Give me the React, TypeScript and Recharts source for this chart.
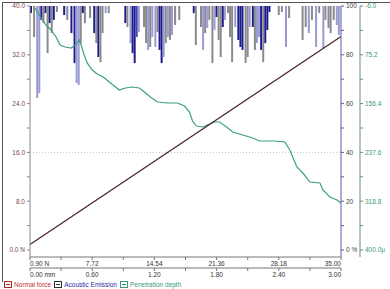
import { ComposedChart, Bar, Line, XAxis, YAxis, ReferenceLine, Cell } from "recharts";

// acoustic emission spikes: position (mm) and the level (%) each spike hangs down to
const AE_MM = [
  0.01, 0.04, 0.07, 0.09, 0.11, 0.13, 0.15, 0.17, 0.19, 0.21, 0.23, 0.26, 0.33, 0.36, 0.40, 0.43,
  0.45, 0.47, 0.49, 0.51, 0.53, 0.58, 0.62, 0.64, 0.66, 0.68, 0.70, 0.73, 0.76, 0.92, 0.94, 0.97,
  0.99, 1.01, 1.03, 1.05, 1.10, 1.12, 1.14, 1.16, 1.18, 1.21, 1.23, 1.25, 1.27, 1.29, 1.31, 1.33,
  1.35, 1.37, 1.40, 1.44, 1.58, 1.60, 1.65, 1.67, 1.69, 1.71, 1.73, 1.76, 1.78, 1.80, 1.82, 1.84,
  1.86, 1.88, 1.91, 1.93, 1.95, 1.98, 2.01, 2.03, 2.05, 2.08, 2.10, 2.12, 2.15, 2.17, 2.19, 2.21,
  2.23, 2.25, 2.27, 2.29, 2.31, 2.40, 2.43, 2.47, 2.50, 2.63, 2.66, 2.69, 2.72, 2.76, 2.79, 2.83,
  2.85, 2.88, 2.90, 2.93, 2.96, 2.98,
];
const AE_LOW = [
  97.1, 87.3, 62.3, 64.3, 94.3, 93.0, 97.1, 80.7, 93.0, 88.9, 94.3, 97.5, 96.3, 94.3, 88.9, 76.6,
  68.4, 67.6, 84.8, 97.1, 93.0, 95.1, 88.9, 84.8, 79.1, 77.0, 88.9, 97.1, 97.1, 93.0, 91.4, 84.8,
  80.7, 76.6, 87.3, 89.3, 91.4, 84.8, 82.0, 83.2, 87.3, 83.2, 89.3, 82.0, 76.6, 79.1, 84.8, 87.3,
  86.1, 88.1, 92.2, 94.3, 97.1, 84.0, 91.4, 82.0, 88.9, 91.0, 94.3, 76.6, 90.2, 95.5, 86.1, 79.1,
  91.4, 94.3, 97.1, 87.3, 77.0, 91.4, 86.1, 83.2, 82.0, 76.6, 79.1, 91.4, 91.4, 82.0, 84.8, 87.3,
  82.0, 77.0, 84.8, 90.2, 97.5, 96.3, 97.5, 83.2, 95.1, 86.1, 91.4, 88.9, 94.3, 83.2, 97.1, 82.8,
  94.3, 91.0, 88.9, 94.3, 92.2, 88.1,
];
// n = navy, g = grey, l = lavender, b = blue
const AE_TONE = [
  "n", "g", "l", "l", "n", "g", "n", "g", "n", "g", "n", "g", "n", "g", "n", "n",
  "l", "l", "g", "n", "g", "g", "n", "g", "n", "g", "g", "l", "g", "n", "g", "l",
  "n", "n", "b", "l", "g", "g", "l", "g", "l", "l", "g", "n", "n", "l", "g", "l",
  "g", "l", "g", "g", "n", "g", "g", "l", "g", "l", "g", "g", "l", "n", "g", "g",
  "n", "l", "g", "g", "g", "l", "n", "n", "n", "g", "g", "l", "n", "g", "l", "l",
  "n", "g", "n", "n", "n", "g", "g", "l", "g", "g", "g", "l", "g", "l", "g", "l",
  "g", "g", "g", "g", "l", "l",
];

// normal force ramps linearly with the applied load
const FORCE_N = [0.9, 35];

// penetration depth (µm) read against the normal-force axis
const DEPTH_N = [
  1.45, 2.11, 2.66, 3.21, 3.76, 4.20, 4.75, 5.41, 5.85, 6.29, 6.51, 6.84, 7.17, 7.72, 8.27, 8.93,
  9.59, 10.14, 10.69, 11.35, 12.12, 12.89, 13.44, 14.10, 14.87, 15.97, 17.07, 17.84, 18.39, 18.72, 19.16, 19.82,
  20.59, 21.14, 21.69, 22.46, 23.12, 24.22, 25.32, 26.09, 27.74, 28.84, 29.39, 30.16, 30.82, 31.59, 32.69, 33.02,
  33.79, 34.56, 35.00,
];
const DEPTH_UM = [
  -2.7, 14.0, 25.6, 33.9, 45.6, 58.9, 62.2, 63.9, 58.9, 50.6, 58.9, 75.5, 88.8, 100.5, 107.2, 112.1,
  120.5, 127.1, 133.8, 130.4, 128.8, 130.4, 137.1, 145.4, 153.7, 155.4, 155.4, 160.4, 170.4, 185.4, 193.7, 195.3,
  190.4, 187.0, 187.0, 195.3, 203.7, 208.7, 213.6, 218.6, 218.6, 220.3, 233.6, 261.9, 271.9, 286.9, 288.5, 300.2,
  311.8, 316.8, 321.8,
];

const FORCE_TICKS = [0.9, 4.31, 7.72, 11.13, 14.54, 17.95, 21.36, 24.77, 28.18, 31.59, 35.0];
const MM_TICKS = [0, 0.3, 0.6, 0.9, 1.2, 1.5, 1.8, 2.1, 2.4, 2.7, 3.0];
const LEFT_TICKS = [0, 4, 8, 12, 16, 20, 24, 28, 32, 36, 40];
const AE_TICKS = [0, 10, 20, 30, 40, 50, 60, 70, 80, 90, 100];
const DEPTH_TICKS = [-6, 34.6, 75.2, 115.8, 156.4, 197, 237.6, 278.2, 318.8, 359.4, 400];

const TONES: Record<string, string> = { n: "#1c1c8c", g: "#8a8a8e", l: "#9a9ad2", b: "#4545b5" };

const aeData = AE_MM.map((mm, i) => ({ mm, ae: [AE_LOW[i], 100] }));
const forceData = FORCE_N.map((n) => ({ n, force: n }));
const depthData = DEPTH_N.map((n, i) => ({ n, depth: DEPTH_UM[i] }));

const FONT = "'Liberation Sans', Arial, sans-serif";
const FS = 6.5;

function XTick(props: any) {
  const { x, y, payload, index, unit } = props;
  const last = props.visibleTicksCount - 1;
  if (index % 2 === 1) return null;
  const v = payload.value as number;
  let text = v.toFixed(2);
  if (index === 0) text += unit;
  const anchor = index === 0 ? "start" : index === last ? "end" : "middle";
  return (
    <text x={x} y={y} dy="0.71em" textAnchor={anchor} fontSize={FS} fill="#333" fontFamily={FONT}>
      {text}
    </text>
  );
}

function YTick(props: any) {
  const { x, y, payload, index, textAnchor, color, fmt } = props;
  const text = fmt(payload.value, index);
  if (!text) return null;
  return (
    <text x={x} y={y} dy="0.355em" textAnchor={textAnchor} fontSize={FS} fill={color} fontFamily={FONT}>
      {text}
    </text>
  );
}

const fmtLeft = (v: number) => (v % 8 === 0 ? (v === 0 ? "0.0 N" : v.toFixed(1)) : "");
const fmtAe = (v: number) => (v % 20 === 0 ? (v === 0 ? "0 %" : String(v)) : "");
const fmtDepth = (v: number, i: number) => (i % 2 === 0 ? (v === 400 ? "400.0µ" : v.toFixed(1)) : "");

function LegendItem({ label, color, box }: { label: string; color: string; box: string }) {
  return (
    <span style={{ display: "inline-flex", alignItems: "center", marginRight: 3 }}>
      <span style={{ width: 6, height: 5, border: `1px solid ${box}`, marginRight: 2, position: "relative" }}>
        <span style={{ position: "absolute", left: 1, right: 1, top: 2, height: 1, background: box }} />
      </span>
      <span style={{ color }}>{label}</span>
    </span>
  );
}

export default function App() {
  return (
    <div style={{ position: "absolute", left: 0, top: 0, width: 390, height: 289, background: "#fff", overflow: "hidden", fontFamily: FONT }}>
      <div style={{ position: "absolute", left: 2, top: 2, width: 388, height: 1, background: "#555" }} />
      <div style={{ position: "absolute", left: 2, top: 2, width: 1, height: 280, background: "#555" }} />
      <ComposedChart width={390} height={289} data={aeData} margin={{ top: 6, right: 0, bottom: 10, left: 0 }}>
        <XAxis xAxisId="N" dataKey="n" type="number" domain={[0.9, 35]} ticks={FORCE_TICKS} interval={0} allowDataOverflow
          height={11} stroke="#777" tickSize={3} tickMargin={1} tick={(p: any) => <XTick {...p} unit=" N" />} />
        <XAxis xAxisId="mm" dataKey="mm" type="number" domain={[0, 3]} ticks={MM_TICKS} interval={0} allowDataOverflow
          height={11} stroke="#777" tickSize={3} tickMargin={1} tick={(p: any) => <XTick {...p} unit=" mm" />} />
        <YAxis yAxisId="F" domain={[0, 40]} ticks={LEFT_TICKS} interval={0} width={30} stroke="#888" tickSize={3}
          padding={{ bottom: 7 }} tick={(p: any) => <YTick {...p} color="#7a4a4a" fmt={fmtLeft} />} />
        <YAxis yAxisId="AE" orientation="right" domain={[0, 100]} ticks={AE_TICKS} interval={0} width={19}
          stroke="#5a5aa8" tickSize={3} padding={{ bottom: 7 }}
          tick={(p: any) => <YTick {...p} color="#444" fmt={fmtAe} />} />
        <YAxis yAxisId="D" orientation="right" domain={[-6, 400]} reversed ticks={DEPTH_TICKS} interval={0} width={30}
          stroke="#6a8a80" tickSize={3} padding={{ bottom: 7 }}
          tick={(p: any) => <YTick {...p} color="#3a9a7a" fmt={fmtDepth} />} />
        <ReferenceLine yAxisId="F" xAxisId="N" y={16} stroke="#c4c4c4" strokeDasharray="1 2" />
        <Line data={depthData} xAxisId="N" yAxisId="D" dataKey="depth" stroke="#3c9e8a" strokeWidth={1.2}
          dot={false} isAnimationActive={false} />
        <Bar xAxisId="mm" yAxisId="AE" dataKey="ae" barSize={2} isAnimationActive={false}>
          {aeData.map((_, i) => (
            <Cell key={i} fill={TONES[AE_TONE[i]]} />
          ))}
        </Bar>
        <Line data={forceData} xAxisId="N" yAxisId="F" dataKey="force" stroke="#4a2424" strokeWidth={1.2}
          dot={false} isAnimationActive={false} />
      </ComposedChart>
      <div style={{ position: "absolute", left: 4, top: 281, fontSize: FS, display: "flex", whiteSpace: "nowrap" }}>
        <LegendItem label="Normal force" color="#c03030" box="#a03030" />
        <LegendItem label="Acoustic Emission" color="#2a2aa0" box="#333" />
        <LegendItem label="Penetration depth" color="#3a9a7a" box="#3a9a7a" />
      </div>
    </div>
  );
}
